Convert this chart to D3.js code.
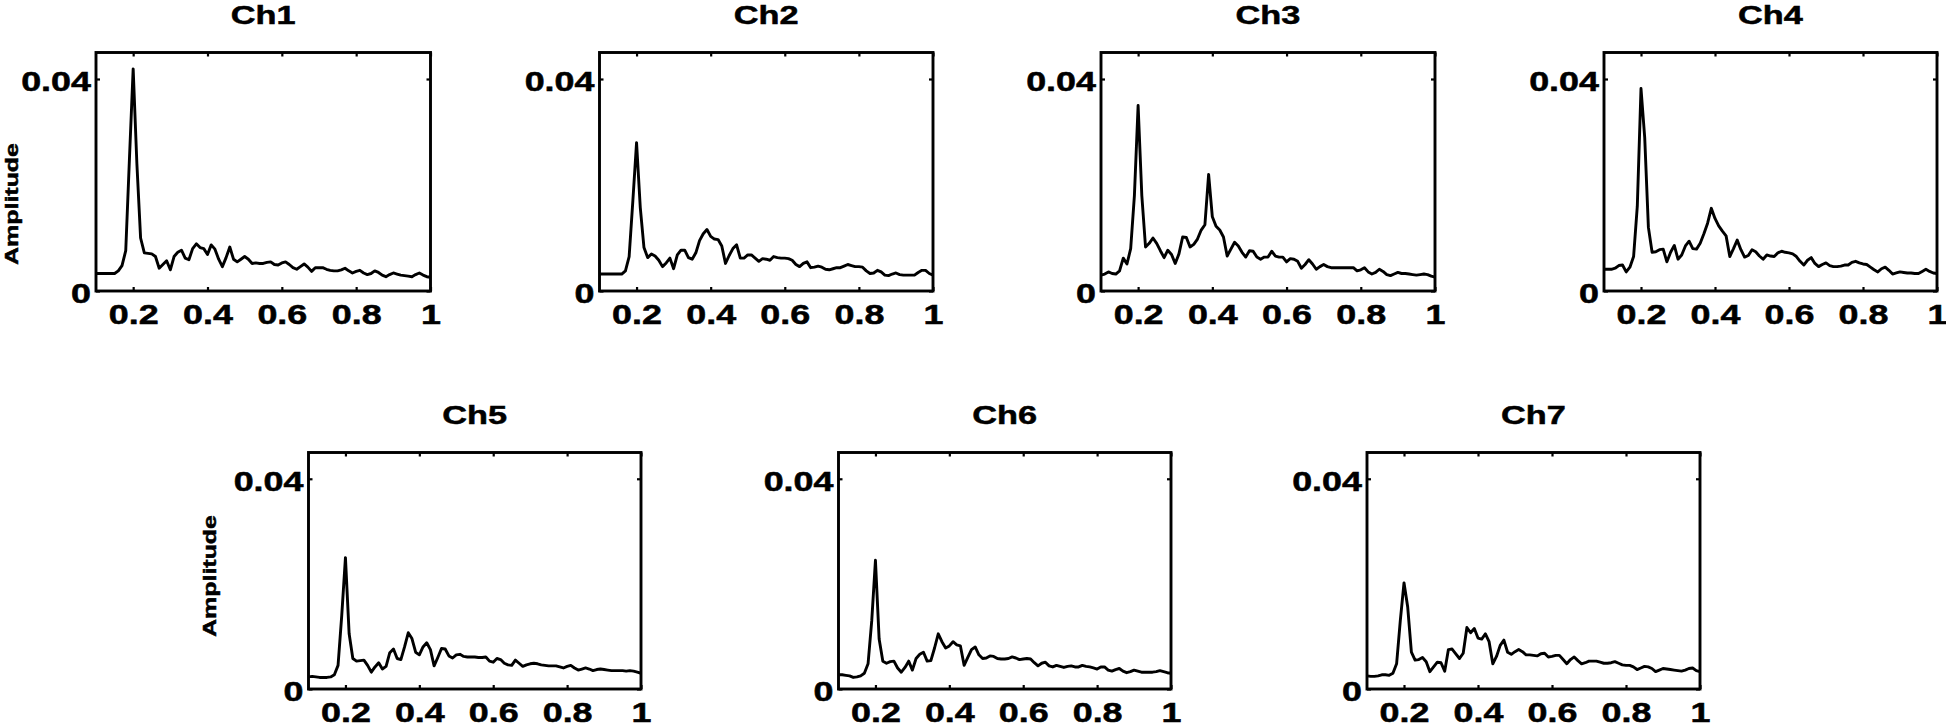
<!DOCTYPE html>
<html><head><meta charset="utf-8">
<script src="https://cdn.jsdelivr.net/npm/d3@7"></script>
<style>
body{margin:0;background:#fff}
svg{display:block}
text{font-family:"Liberation Sans",Arial,Helvetica,sans-serif;font-weight:bold;fill:#000;stroke:#000;stroke-width:0.5px}
</style>
</head><body>
<svg id="c" width="1946" height="728"></svg>
<script>
// ---------- data ----------
const freq = [
 0.10,0.11,0.12,0.13,0.14,0.15,0.16,0.17,0.18,0.19,
 0.20,0.21,0.22,0.23,0.24,0.25,0.26,0.27,0.28,0.29,
 0.30,0.31,0.32,0.33,0.34,0.35,0.36,0.37,0.38,0.39,
 0.40,0.41,0.42,0.43,0.44,0.45,0.46,0.47,0.48,0.49,
 0.50,0.51,0.52,0.53,0.54,0.55,0.56,0.57,0.58,0.59,
 0.60,0.61,0.62,0.63,0.64,0.65,0.66,0.67,0.68,0.69,
 0.70,0.71,0.72,0.73,0.74,0.75,0.76,0.77,0.78,0.79,
 0.80,0.81,0.82,0.83,0.84,0.85,0.86,0.87,0.88,0.89,
 0.90,0.91,0.92,0.93,0.94,0.95,0.96,0.97,0.98,0.99,
 1.00];

const channels = ["Ch1","Ch2","Ch3","Ch4","Ch5","Ch6","Ch7"];
const AMP_UNIT = 0.001; // values below are in thousandths

const ch1 = [
 3.3,3.3,3.3,3.3,3.3,3.3,3.8,4.8,7.6,25,
 41.9,24,10,7.2,7.1,7.0,6.5,4.3,5.0,5.7,
 4.0,6.5,7.3,7.7,6.2,5.9,8.0,8.9,8.2,8.0,
 6.9,8.7,7.9,6.0,4.6,6.3,8.3,6.0,5.5,6.0,
 6.5,6.0,5.2,5.3,5.2,5.2,5.4,5.5,5.0,4.9,
 5.3,5.5,5.0,4.4,4.1,4.6,5.1,4.5,3.7,4.4,
 4.4,4.4,4.1,3.9,3.8,3.8,4.0,4.3,3.8,3.4,
 3.7,3.9,3.4,3.1,3.3,3.8,3.5,3.0,2.7,3.1,
 3.4,3.2,3.0,2.9,2.8,2.7,3.1,3.4,3.0,2.7,
 2.6];
const ch2 = [
 3.2,3.2,3.2,3.2,3.2,3.2,3.2,3.8,6.5,17,
 28,15.8,8.2,6.3,7.0,6.6,5.8,4.6,5.3,6.2,
 4.2,6.8,7.7,7.7,6.3,6.0,7.2,9.5,10.8,11.6,
 10.3,9.8,9.7,8.5,5.2,6.7,8.0,8.7,6.2,6.2,
 6.8,6.8,6.2,5.6,6.1,6.0,5.8,6.5,6.3,6.2,
 6.2,6.1,5.8,5.0,4.6,5.2,5.5,4.4,4.5,4.7,
 4.5,4.1,4.0,4.2,4.4,4.4,4.7,5.0,4.8,4.6,
 4.6,4.5,3.8,3.3,3.4,3.9,3.6,3.0,2.9,3.2,
 3.4,3.1,3.0,3.0,3.0,3.0,3.5,3.9,3.9,3.3,
 3.0];
const ch3 = [
 3.0,3.2,3.6,3.3,3.2,3.8,6.2,5.1,8.0,18,
 35,18,8.3,9.0,10.0,9.0,7.6,6.3,7.7,6.9,
 5.2,7.0,10.2,10.1,8.3,8.8,9.8,11.5,12.5,22,
 14.0,12.2,11.5,10.2,6.6,7.9,9.2,8.5,7.3,6.4,
 7.6,7.5,6.4,6.0,6.4,6.4,7.5,6.6,6.4,6.4,
 5.5,6.1,6.0,5.6,4.3,5.0,5.9,5.1,4.1,4.6,
 5.0,4.6,4.4,4.4,4.4,4.4,4.4,4.4,4.4,3.8,
 4.0,4.4,3.6,3.2,3.5,4.1,3.7,3.1,2.9,3.2,
 3.5,3.3,3.3,3.2,3.1,3.0,3.1,3.2,3.1,2.8,
 2.6];
const ch4 = [
 4.1,4.1,4.1,4.3,4.8,4.9,3.6,4.5,6.5,16,
 38.2,29,12,7.3,7.4,7.8,7.9,5.5,7.3,8.6,
 6.0,6.8,8.5,9.4,8.0,7.9,9.0,10.8,12.8,15.6,
 13.7,12.3,11.3,10.4,6.5,8.0,9.6,7.8,6.4,6.7,
 7.8,7.4,6.6,6.0,6.8,6.6,6.5,7.2,7.5,7.3,
 7.2,7.0,6.5,5.6,4.9,5.8,6.3,5.2,4.6,5.0,
 5.3,4.8,4.6,4.6,4.7,4.9,4.9,5.4,5.6,5.3,
 5.1,5.0,4.5,4.0,3.6,4.2,4.5,3.9,3.2,3.4,
 3.6,3.5,3.4,3.4,3.3,3.3,3.7,4.1,3.7,3.4,
 3.3];
const ch5 = [
 2.3,2.4,2.3,2.2,2.2,2.2,2.3,2.7,4.5,14,
 25,10.5,5.8,5.3,5.4,5.5,4.5,3.2,4.2,5.0,
 3.8,4.3,6.9,7.6,5.8,5.6,8.0,10.7,9.6,7.0,
 6.5,8.0,8.8,7.5,4.4,6.0,7.7,7.6,6.3,5.9,
 6.5,6.6,6.2,6.1,6.1,6.1,6.0,6.0,6.1,5.3,
 5.1,5.8,5.6,4.9,4.6,4.5,5.5,4.9,4.3,4.6,
 4.8,4.9,4.8,4.6,4.5,4.4,4.4,4.4,4.2,4.0,
 4.3,4.5,4.0,3.6,3.8,4.0,3.8,3.5,3.7,3.8,
 3.7,3.6,3.5,3.5,3.5,3.5,3.4,3.5,3.4,3.2,
 3.0];
const ch6 = [
 2.7,2.7,2.6,2.5,2.2,2.3,2.5,3.0,4.8,13,
 24.5,9.5,5.3,4.9,5.2,5.3,4.0,3.2,4.1,5.3,
 3.6,5.8,6.6,7.0,5.3,5.4,7.8,10.5,9.0,7.8,
 8.2,9.0,8.4,8.2,4.5,6.0,7.5,8.0,6.5,5.8,
 5.9,6.3,6.2,5.8,5.7,5.7,5.8,6.1,5.9,5.6,
 5.7,5.8,5.7,5.0,4.4,4.9,5.1,4.4,4.2,4.5,
 4.3,4.1,4.3,4.4,4.2,4.2,4.5,4.3,4.2,4.0,
 3.8,4.2,4.2,3.6,3.4,3.7,3.9,3.4,3.1,3.3,
 3.6,3.4,3.2,3.2,3.2,3.2,3.3,3.5,3.3,3.1,
 3.0];
const ch7 = [
 2.5,2.4,2.4,2.5,2.7,2.7,2.6,3.0,4.8,13,
 20.2,15.6,7.0,5.5,5.6,6.0,5.2,3.3,4.2,5.1,
 5.0,3.4,7.5,7.6,6.7,5.8,6.8,11.7,10.7,11.5,
 9.7,9.5,10.5,9.0,4.8,6.2,8.3,9.3,7.0,6.6,
 7.1,7.5,7.1,6.5,6.5,6.4,6.3,6.7,6.8,6.1,
 6.2,6.4,6.4,5.6,4.8,5.6,6.1,5.4,4.8,5.0,
 5.3,5.3,5.3,5.1,4.9,4.9,5.0,5.2,4.9,4.6,
 4.5,4.5,4.2,3.7,4.0,4.3,4.2,3.9,3.3,3.6,
 3.9,3.8,3.7,3.6,3.5,3.4,3.6,3.9,4.0,3.5,
 3.3];

const xTicks = [0.2, 0.4, 0.6, 0.8, 1];
const yTicks = [0, 0.04];
const xDomain = [0.1, 1];
const yDomain = [0, 0.045];
const yLabelText = "Amplitude";

// ---------- layout ----------
const layout = [
 {l:96,    t:52.5,  w:334.5, h:238.5, ylab:[12,204]},
 {l:599.5, t:52.5,  w:333.5, h:238.5},
 {l:1101,  t:52.5,  w:334,   h:238.5},
 {l:1604,  t:52.5,  w:333,   h:238.5},
 {l:308.5, t:452.5, w:332.5, h:236.5, ylab:[210,576]},
 {l:838.5, t:452.5, w:332.5, h:236.5},
 {l:1367,  t:452.5, w:333,   h:236.5}
];
const series = [ch1, ch2, ch3, ch4, ch5, ch6, ch7];

const TICK_FS = 27, TICK_SX = 1.33;
const TITLE_FS = 26, TITLE_SX = 1.32;
const LW = 2.9;

const svg = d3.select("#c");

channels.forEach((name, i) => {
  const L = layout[i];
  const g = svg.append("g").attr("transform", `translate(${L.l},${L.t})`);
  const x = d3.scaleLinear().domain(xDomain).range([0, L.w]);
  const y = d3.scaleLinear().domain(yDomain).range([L.h, 0]);

  const data = freq.map((f, j) => [f, series[i][j] * AMP_UNIT]);
  g.append("path").datum(data)
    .attr("d", d3.line().x(d => x(d[0])).y(d => y(d[1])))
    .attr("fill", "none").attr("stroke", "#000")
    .attr("stroke-width", LW).attr("stroke-linejoin", "round");

  const fmt = d3.format("~g");
  const gb = g.append("g").attr("transform", `translate(0,${L.h})`)
    .call(d3.axisBottom(x).tickValues(xTicks).tickFormat(fmt)
      .tickSizeInner(-4).tickSizeOuter(0).tickPadding(14));
  const gl = g.append("g")
    .call(d3.axisLeft(y).tickValues(yTicks).tickFormat(fmt)
      .tickSizeInner(-4).tickSizeOuter(0).tickPadding(5));
  const gt = g.append("g")
    .call(d3.axisTop(x).tickValues(xTicks).tickFormat("")
      .tickSizeInner(-4).tickSizeOuter(0));
  const gr = g.append("g").attr("transform", `translate(${L.w},0)`)
    .call(d3.axisRight(y).tickValues(yTicks).tickFormat("")
      .tickSizeInner(-4).tickSizeOuter(0));

  [gb, gl, gt, gr].forEach(a => {
    a.attr("font-family", null).attr("font-size", null);
    a.select(".domain").remove();
    a.selectAll(".tick line").attr("stroke", "#000").attr("stroke-width", 2.2);
  });
  gb.selectAll(".tick text")
    .attr("font-size", TICK_FS).attr("fill", "#000")
    .attr("transform", `scale(${TICK_SX},1)`);
  gl.selectAll(".tick text")
    .attr("font-size", TICK_FS).attr("fill", "#000")
    .attr("x", -5 / TICK_SX).attr("dy", "0.43em")
    .attr("transform", `scale(${TICK_SX},1)`);

  g.append("rect").attr("x", 0).attr("y", 0)
    .attr("width", L.w).attr("height", L.h)
    .attr("fill", "none").attr("stroke", "#000").attr("stroke-width", LW);

  g.append("text")
    .attr("transform", `translate(${L.w / 2},${-29}) scale(${TITLE_SX},1)`)
    .attr("text-anchor", "middle").attr("font-size", TITLE_FS)
    .text(name);

  if (L.ylab) {
    svg.append("text")
      .attr("transform", `translate(${L.ylab[0]},${L.ylab[1]}) rotate(-90)`)
      .attr("text-anchor", "middle").attr("dy", "0.36em")
      .attr("font-size", 18)
      .attr("textLength", 122).attr("lengthAdjust", "spacingAndGlyphs")
      .text(yLabelText);
  }
});
</script>
</body></html>
